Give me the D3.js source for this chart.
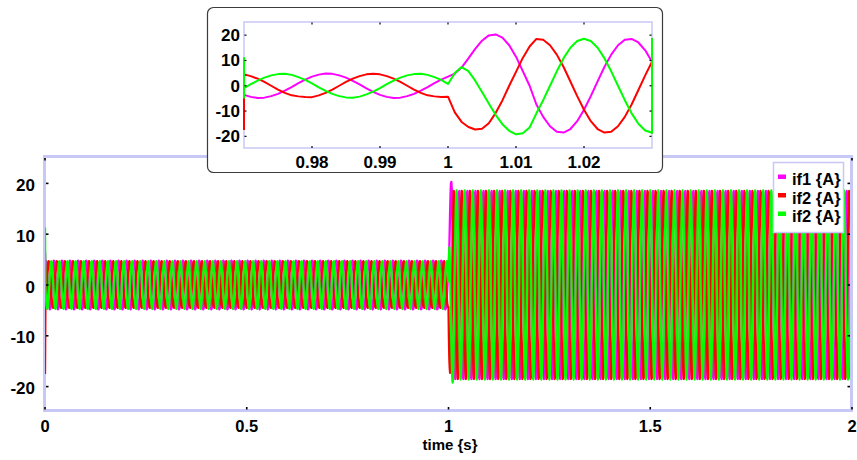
<!DOCTYPE html>
<html><head><meta charset="utf-8">
<script src="https://cdn.jsdelivr.net/npm/d3@7"></script>
<style>
body{margin:0;background:#fff}
svg{display:block}
text{font-family:"Liberation Sans",Arial,sans-serif;font-weight:bold;fill:#000}
</style>
</head><body>
<svg id="c" width="857" height="460"></svg>
<script>
// ---- data ----
const seriesNames  = ["if1 {A}", "if2 {A}", "if2 {A}"];
const seriesColors = ["#ff00ff", "#ff0000", "#00ff00"];
const sampleMs = 1;            // sample spacing, ms
const totalMs = 2000;          // 0 .. 2 s
const faultMs = 1000;          // fault at 1.000 s
const initialValues = [6.5, -17.5, 11.3];   // t = 0

// one 20 ms period before the fault (index = ms within the period)
const preIf1  = [3.6, 4.4, 4.8, 4.7, 4.1, 3.2, 1.9, 0.5, -1.0, -2.4, -3.6, -4.4, -4.8, -4.7, -4.1, -3.2, -1.9, -0.5, 1.0, 2.4];
const preIf2r = [-4.5, -3.8, -2.8, -1.5, 0.0, 1.5, 2.8, 3.8, 4.5, 4.7, 4.5, 3.8, 2.8, 1.5, 0.0, -1.5, -2.8, -3.8, -4.2, -4.4];
const preIf2g = [0.9, -0.6, -2.0, -3.2, -4.1, -4.6, -4.7, -4.3, -3.4, -2.3, -0.9, 0.6, 2.0, 3.2, 4.1, 4.6, 4.7, 4.3, 3.4, 2.3];

// transient right after the fault, 1.000 .. 1.012 s (1 ms steps)
const faultIf1  = [3.6, 4.8, 7.2, 10.8, 14.6, 17.8, 19.9, 20.3, 19.0, 16.0, 11.5, 5.8, 0.0];
const faultIf2r = [-4.3, -10.5, -14.3, -16.3, -17.3, -17.0, -14.8, -10.8, -5.8, 0.0, 5.5, 11.0, 15.5];
const faultIf2g = [0.7, 5.0, 7.4, 5.8, 2.0, -2.5, -7.0, -11.5, -15.2, -17.8, -19.2, -18.8, -16.5];

// one 20 ms period after the fault (index = ms within the period)
const postIf1  = [-9.5, -4.1, 1.7, 7.4, 12.3, 16.0, 18.2, 18.5, 17.1, 14.0, 9.5, 4.1, -1.7, -7.4, -12.3, -16.0, -18.2, -18.5, -17.1, -14.0];
const postIf2r = [-9.5, -14.0, -17.1, -18.5, -18.2, -16.0, -12.3, -7.4, -1.7, 4.1, 9.5, 14.0, 17.1, 18.5, 18.2, 16.0, 12.3, 7.4, 1.7, -4.1];
const postIf2g = [18.6, 17.7, 15.0, 10.9, 5.7, 0.0, -5.7, -10.9, -15.0, -17.7, -18.6, -17.7, -15.0, -10.9, -5.7, 0.0, 5.7, 10.9, 15.0, 17.7];

const xTicksMain  = [0, 0.5, 1, 1.5, 2];
const xTicksInset = [0.98, 0.99, 1, 1.01, 1.02];
const yTicks      = [-20, -10, 0, 10, 20];
const xLabel = "time {s}";

// ---- assemble series from the read periods ----
function buildSeries(init, pre, fault, post) {
  const pts = [{t: 0, v: init}];
  for (let i = sampleMs; i <= totalMs; i += sampleMs) {
    let v;
    if (i < faultMs) v = pre[i % pre.length];
    else if (i - faultMs < fault.length) v = fault[i - faultMs];
    else v = post[i % post.length];
    pts.push({t: i / 1000, v});
  }
  return pts;
}
const series = [
  buildSeries(initialValues[0], preIf1, faultIf1, postIf1),
  buildSeries(initialValues[1], preIf2r, faultIf2r, postIf2r),
  buildSeries(initialValues[2], preIf2g, faultIf2g, postIf2g)
];

const svg = d3.select("#c");
const frameColor = "#c8c8f6";

// ---- main plot ----
const x = d3.scaleLinear().domain([0, 2]).range([45, 852]);
const y = d3.scaleLinear().domain([-25, 25]).range([412, 158]);

svg.append("rect").attr("x", 44.5).attr("y", 156.5).attr("width", 807).attr("height", 254)
  .attr("fill", "#fff").attr("stroke", frameColor).attr("stroke-width", 3);

svg.append("clipPath").attr("id", "clipMain").append("rect")
  .attr("x", 45).attr("y", 158).attr("width", 805).attr("height", 251);

const lineMain = d3.line().x(d => x(d.t)).y(d => y(d.v));
const gMain = svg.append("g").attr("clip-path", "url(#clipMain)");
series.forEach((s, i) => {
  gMain.append("path").datum(s).attr("d", lineMain)
    .attr("fill", "none").attr("stroke", seriesColors[i]).attr("stroke-width", 2.3)
    .attr("stroke-linejoin", "round");
});

// ticks (small inward marks on all four sides)
const tickG = svg.append("g").attr("stroke", "#000").attr("stroke-width", 1.6);
xTicksMain.forEach(t => {
  tickG.append("line").attr("x1", x(t)).attr("x2", x(t)).attr("y1", 407).attr("y2", 409.5);
  tickG.append("line").attr("x1", x(t)).attr("x2", x(t)).attr("y1", 158).attr("y2", 160.5);
});
yTicks.forEach(t => {
  tickG.append("line").attr("x1", 46).attr("x2", 48.5).attr("y1", y(t)).attr("y2", y(t));
  tickG.append("line").attr("x1", 847.5).attr("x2", 850).attr("y1", y(t)).attr("y2", y(t));
});
svg.append("g").selectAll("text").data(xTicksMain).join("text")
  .attr("x", d => x(d)).attr("y", 431.5).attr("text-anchor", "middle")
  .attr("font-size", 16.5).text(d => d3.format("~g")(d));
svg.append("g").selectAll("text").data(yTicks).join("text")
  .attr("x", 35).attr("y", d => y(d) + 7.5).attr("text-anchor", "end")
  .attr("font-size", 17).text(d => d);
svg.append("text").attr("x", 450).attr("y", 449.5).attr("text-anchor", "middle")
  .attr("font-size", 15).text(xLabel);

// legend
svg.append("rect").attr("x", 773.5).attr("y", 162.5).attr("width", 70).attr("height", 70)
  .attr("fill", "#fff").attr("stroke", frameColor).attr("stroke-width", 1.5);
seriesNames.forEach((n, i) => {
  const by = 185 + i * 18.5;
  svg.append("rect").attr("x", 778).attr("y", by - 10.5).attr("width", 8).attr("height", 4.5)
    .attr("fill", seriesColors[i]);
  svg.append("text").attr("x", 792).attr("y", by).attr("font-size", 16.5).text(n);
});

// ---- inset (zoom on the fault) ----
svg.append("rect").attr("x", 207.5).attr("y", 7.5).attr("width", 455).attr("height", 165)
  .attr("rx", 6).attr("ry", 6).attr("fill", "#fff").attr("stroke", "#3c3c3c").attr("stroke-width", 1.2);

const xi = d3.scaleLinear().domain([0.97, 1.03]).range([244, 652]).clamp(true);
const yi = d3.scaleLinear().domain([-25, 25]).range([149, 22.5]);

svg.append("rect").attr("x", 244).attr("y", 22).attr("width", 408).attr("height", 126)
  .attr("fill", "#fff").attr("stroke", frameColor).attr("stroke-width", 1.5);

svg.append("clipPath").attr("id", "clipInset").append("rect")
  .attr("x", 243).attr("y", 22.5).attr("width", 410).attr("height", 125);
const lineInset = d3.line().x(d => xi(d.t)).y(d => yi(d.v));
const gInset = svg.append("g").attr("clip-path", "url(#clipInset)");
series.forEach((s, i) => {
  gInset.append("path").datum(s).attr("d", lineInset)
    .attr("fill", "none").attr("stroke", seriesColors[i]).attr("stroke-width", 2)
    .attr("stroke-linejoin", "round");
});

const tickI = svg.append("g").attr("stroke", "#000").attr("stroke-width", 1.2);
xTicksInset.forEach(t => {
  tickI.append("line").attr("x1", xi(t)).attr("x2", xi(t)).attr("y1", 146).attr("y2", 148);
  tickI.append("line").attr("x1", xi(t)).attr("x2", xi(t)).attr("y1", 22.5).attr("y2", 24.5);
});
yTicks.forEach(t => {
  tickI.append("line").attr("x1", 244.5).attr("x2", 246.5).attr("y1", yi(t)).attr("y2", yi(t));
  tickI.append("line").attr("x1", 649.5).attr("x2", 651.5).attr("y1", yi(t)).attr("y2", yi(t));
});
svg.append("g").selectAll("text").data(xTicksInset).join("text")
  .attr("x", d => xi(d)).attr("y", 168).attr("text-anchor", "middle")
  .attr("font-size", 17).text(d => d3.format("~g")(d));
svg.append("g").selectAll("text").data(yTicks).join("text")
  .attr("x", 240).attr("y", d => yi(d) + 6).attr("text-anchor", "end")
  .attr("font-size", 17).text(d => d);
</script>
</body></html>
